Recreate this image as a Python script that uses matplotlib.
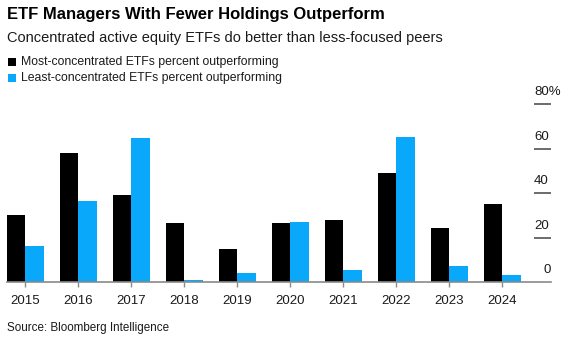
import matplotlib
matplotlib.use('Agg')
import matplotlib.pyplot as plt
import matplotlib.transforms as mtransforms
import numpy as np

years = ['2015', '2016', '2017', '2018', '2019', '2020', '2021', '2022', '2023', '2024']
most_conc = [30, 58, 39, 26.5, 15, 26.5, 28, 49, 24.5, 35]
least_conc = [16, 36.5, 65, 1, 4, 27, 5.5, 65.5, 7, 3]
y_ticks = [0, 20, 40, 60, 80]
y_labels = ['0', '20', '40', '60', '80%']

BLACK = '#000000'
BLUE = '#0aa8fa'
TEXT = '#1a1a1a'

plt.rcParams['font.family'] = ['Liberation Sans', 'DejaVu Sans']

W, H = 573, 340
fig = plt.figure(figsize=(W / 100, H / 100), dpi=100)

# axes placed in pixel terms to follow the reference layout
left_px, right_px, top_px, bot_px = 6.7, 551, 104.3, 282
ax = fig.add_axes([left_px / W, 1 - bot_px / H, (right_px - left_px) / W, (bot_px - top_px) / H])

x = np.arange(len(years))
bw = 0.35
ax.bar(x - bw / 2, most_conc, width=bw, color=BLACK, linewidth=0)
ax.bar(x + bw / 2, least_conc, width=bw, color=BLUE, linewidth=0)

ax.set_xlim(-0.35, 9.92)
ax.set_ylim(0, 80)

for s in ['top', 'left', 'right']:
    ax.spines[s].set_visible(False)
ax.spines['bottom'].set_color('#8a8a8a')
ax.spines['bottom'].set_linewidth(1.2)
ax.set_yticks([])
ax.set_xticks(x)
ax.set_xticklabels(years, fontsize=9.5, color=TEXT)
ax.tick_params(axis='x', length=3.5, width=1, color='#8a8a8a', pad=6)

# right-side value labels sitting above short tick lines
ax.hlines(y_ticks[1:], 9.6, 9.92, color='#444444', linewidth=1.1, clip_on=False)
off = mtransforms.ScaledTranslation(0, 9 / 100, fig.dpi_scale_trans)
for v, lab in zip(y_ticks, y_labels):
    if v == 0:
        ax.text(9.92, v, lab, transform=ax.transData + off,
                ha='right', va='baseline', fontsize=9.5, color=TEXT)
    else:
        ax.text(9.6, v, lab, transform=ax.transData + off,
                ha='left', va='baseline', fontsize=9.5, color=TEXT)

# title block
fig.text(7 / W, 1 - 15 / H, 'ETF Managers With Fewer Holdings Outperform',
         fontsize=12, fontweight='bold', color='#000000', va='center', ha='left')
fig.text(7 / W, 1 - 38 / H, 'Concentrated active equity ETFs do better than less-focused peers',
         fontsize=10.5, color=TEXT, va='center', ha='left')

# legend
for i, (lab, col) in enumerate([('Most-concentrated ETFs percent outperforming', BLACK),
                                ('Least-concentrated ETFs percent outperforming', BLUE)]):
    yc = 62 + 16 * i
    fig.patches.append(plt.Rectangle((8.3 / W, 1 - (yc + 4) / H), 8 / W, 8 / H,
                                     transform=fig.transFigure, color=col, linewidth=0))
    fig.text(20.7 / W, 1 - yc / H, lab, fontsize=8.8, color=TEXT, va='center', ha='left')

fig.text(7 / W, 1 - 327.5 / H, 'Source: Bloomberg Intelligence',
         fontsize=8.4, color=TEXT, va='center', ha='left')

fig.savefig('out.png', dpi=100)
